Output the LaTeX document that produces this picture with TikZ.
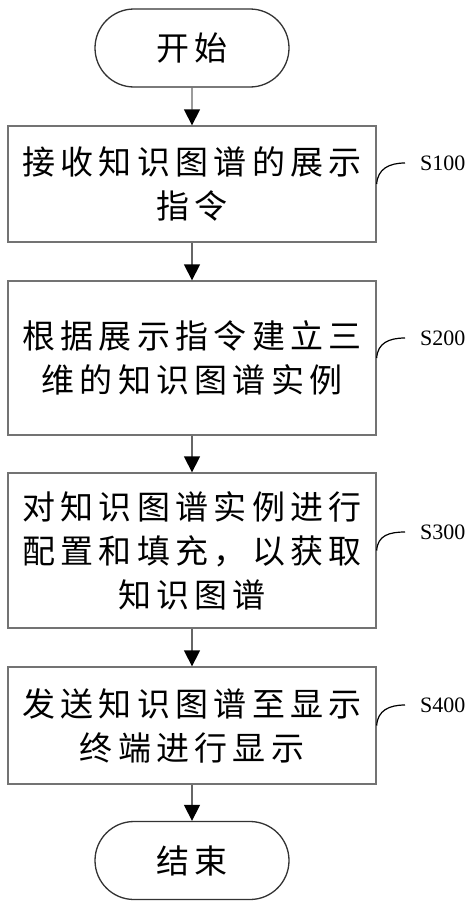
\documentclass[tikz,border=0pt]{standalone}
\usepackage{fontspec}
\setmainfont{Liberation Serif}
\newfontfamily\cjk[LetterSpace=16]{Noto Sans CJK SC}
\usetikzlibrary{shapes.misc,arrows.meta}
\tikzset{
  stepbox/.style={draw=black!55,line width=1.3pt,minimum width=368pt,inner sep=0pt,align=center,
     font=\cjk\fontsize{33}{44}\selectfont},
  term/.style={draw=black!80,line width=1.3pt,rounded rectangle,minimum width=194pt,minimum height=78pt,inner sep=0pt,
     font=\cjk\fontsize{33}{44}\selectfont},
  flow/.style={draw=black!60,line width=1.3pt,-{Triangle[length=16pt,width=16pt,fill=black,color=black]}},
  lbl/.style={anchor=west,font=\fontsize{22}{24}\selectfont,inner sep=0pt},
  lcurve/.style={draw=black,line width=1.2pt}
}
\begin{document}
\begin{tikzpicture}[x=1pt,y=-1pt]
\useasboundingbox (0,0) rectangle (474,910);
\node[term] (start) at (192,48) {开始};
\node[stepbox,minimum height=116pt] (b1) at (192,184) {接收知识图谱的展示\\指令};
\node[stepbox,minimum height=154pt] (b2) at (192,358) {根据展示指令建立三\\维的知识图谱实例};
\node[stepbox,minimum height=155pt] (b3) at (192,550.5) {对知识图谱实例进行\\配置和填充，以获取\\知识图谱};
\node[stepbox,minimum height=117pt] (b4) at (192,725.5) {发送知识图谱至显示\\终端进行显示};
\node[term] (end) at (192,860.5) {结束};
\draw[flow] (start) -- (b1);
\draw[flow] (b1) -- (b2);
\draw[flow] (b2) -- (b3);
\draw[flow] (b3) -- (b4);
\draw[flow] (b4) -- (end);
\node[lbl] (l1) at (420,163) {S100};
\node[lbl] (l2) at (420,338) {S200};
\node[lbl] (l3) at (420,532) {S300};
\node[lbl] (l4) at (420,705) {S400};
\coordinate (c1) at ([xshift=-15pt]l1.west);
\coordinate (c2) at ([xshift=-15pt]l2.west);
\coordinate (c3) at ([xshift=-15pt]l3.west);
\coordinate (c4) at ([xshift=-15pt]l4.west);
\draw[lcurve] (b1.east) .. controls +(1,-15) and +(-16,0) .. (c1);
\draw[lcurve] (b2.east) .. controls +(1,-15) and +(-16,0) .. (c2);
\draw[lcurve] (b3.east) .. controls +(1,-15) and +(-16,0) .. (c3);
\draw[lcurve] (b4.east) .. controls +(1,-15) and +(-16,0) .. (c4);
\end{tikzpicture}
\end{document}
